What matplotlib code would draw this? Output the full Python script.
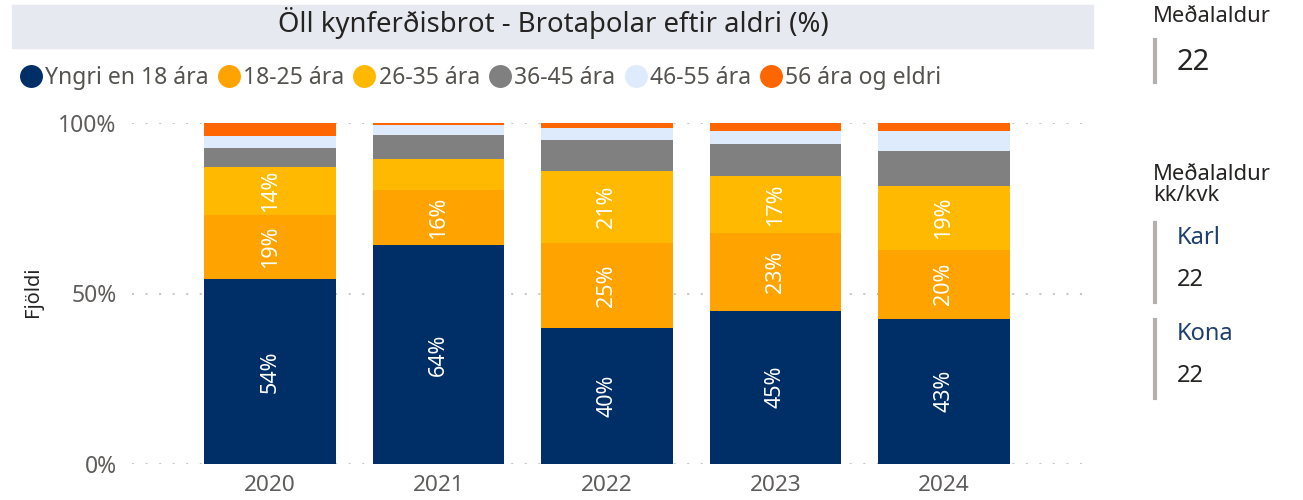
import matplotlib.pyplot as plt
from matplotlib.lines import Line2D
from matplotlib.patches import Rectangle
import numpy as np

years = ["2020", "2021", "2022", "2023", "2024"]
groups = ["Yngri en 18 ára", "18-25 ára", "26-35 ára", "36-45 ára", "46-55 ára", "56 ára og eldri"]
colors = ["#002F67", "#FFA300", "#FFB900", "#808080", "#DDEBFC", "#FF6600"]

under_18 = [54.3, 64.2, 39.9, 45.0, 42.6]
age_18_25 = [18.8, 16.1, 25.0, 22.6, 20.3]
age_26_35 = [14.1, 9.1, 21.0, 16.8, 18.6]
age_36_45 = [5.6, 7.1, 9.1, 9.3, 10.3]
age_46_55 = [3.5, 2.9, 3.5, 4.1, 5.9]
age_56_up = [3.7, 0.6, 1.5, 2.2, 2.3]

series = [under_18, age_18_25, age_26_35, age_36_45, age_46_55, age_56_up]

mean_age = "22"
mean_karl = "22"
mean_kona = "22"

plt.rcParams['font.family'] = ['Noto Sans', 'DejaVu Sans']

W, H = 1303, 500
fig = plt.figure(figsize=(W / 100, H / 100), dpi=100)

# title bar
fig.patches.append(Rectangle((12 / W, 1 - 48 / H), (1093 - 12) / W, 43 / H,
                             transform=fig.transFigure, color="#E6E9F0", zorder=0))
fig.text(553 / W, 1 - 23 / H, "Öll kynferðisbrot - Brotaþolar eftir aldri (%)",
         ha="center", va="center", fontsize=19.8, color="#252423")

ax = fig.add_axes([132 / W, 36 / H, 950 / W, 341 / H])
x = np.arange(len(years))
bottom = np.zeros(len(years))
for i, (name, vals, c) in enumerate(zip(groups, series, colors)):
    vals = np.array(vals)
    ax.bar(x, vals, bottom=bottom, width=0.78, color=c, label=name, zorder=2)
    if i < 3:
        for xi, v, b in zip(x, vals, bottom):
            if v >= 10:
                ax.text(xi, b + v / 2, f"{v:.0f}%", rotation=90, ha="center", va="center",
                        color="white", fontsize=15.5, zorder=3)
    bottom += vals

ax.set_xlim(-0.82, 4.82)
ax.set_ylim(0, 100)
ax.set_yticks([0, 50, 100])
ax.set_yticklabels(["0%", "50%", "100%"])
ax.set_xticks(x)
ax.set_xticklabels(years)
ax.tick_params(axis="y", length=0, pad=11, labelsize=16.5, labelcolor="#605E5C")
ax.tick_params(axis="x", length=0, pad=8, labelsize=16.3, labelcolor="#605E5C")
ax.grid(axis="y", color="#C8C8C8", linewidth=1.5, linestyle=(0, (1, 5.5)))
ax.set_axisbelow(True)
for s in ax.spines.values():
    s.set_visible(False)

fig.text(33 / W, 1 - 292 / H, "Fjöldi", rotation=90, ha="center", va="center",
         fontsize=14.4, color="#252423")

handles = [Line2D([], [], marker="o", linestyle="none", markersize=15.5,
                  markerfacecolor=c, markeredgecolor=c) for c in colors]
fig.legend(handles, groups, loc="center left", bbox_to_anchor=(17 / W, 1 - 78 / H),
           ncol=6, frameon=False, fontsize=16.5, handletextpad=0.02, columnspacing=0.28,
           handlelength=1.2, labelcolor="#55534F", borderpad=0, borderaxespad=0)

# right-hand cards
fig.text(1153 / W, 1 - 17 / H, "Meðalaldur", ha="left", va="center", fontsize=15.8, color="#252423")
fig.add_artist(Line2D([1155 / W, 1155 / W], [1 - 40 / H, 1 - 82 / H], color="#B3B0AD", linewidth=3))
fig.text(1177 / W, 1 - 62 / H, mean_age, ha="left", va="center", fontsize=21, color="#252423")

fig.text(1153 / W, 1 - 185 / H, "Meðalaldur\nkk/kvk", ha="left", va="center", fontsize=15.8,
         color="#252423", linespacing=1.05)
fig.add_artist(Line2D([1155 / W, 1155 / W], [1 - 223 / H, 1 - 302 / H], color="#B3B0AD", linewidth=3))
fig.text(1177 / W, 1 - 238 / H, "Karl", ha="left", va="center", fontsize=17, color="#1F3F6E")
fig.text(1177 / W, 1 - 280 / H, mean_karl, ha="left", va="center", fontsize=17, color="#252423")
fig.add_artist(Line2D([1155 / W, 1155 / W], [1 - 320 / H, 1 - 398 / H], color="#B3B0AD", linewidth=3))
fig.text(1177 / W, 1 - 334 / H, "Kona", ha="left", va="center", fontsize=17, color="#1F3F6E")
fig.text(1177 / W, 1 - 376 / H, mean_kona, ha="left", va="center", fontsize=17, color="#252423")

fig.savefig("out.png", dpi=100)
